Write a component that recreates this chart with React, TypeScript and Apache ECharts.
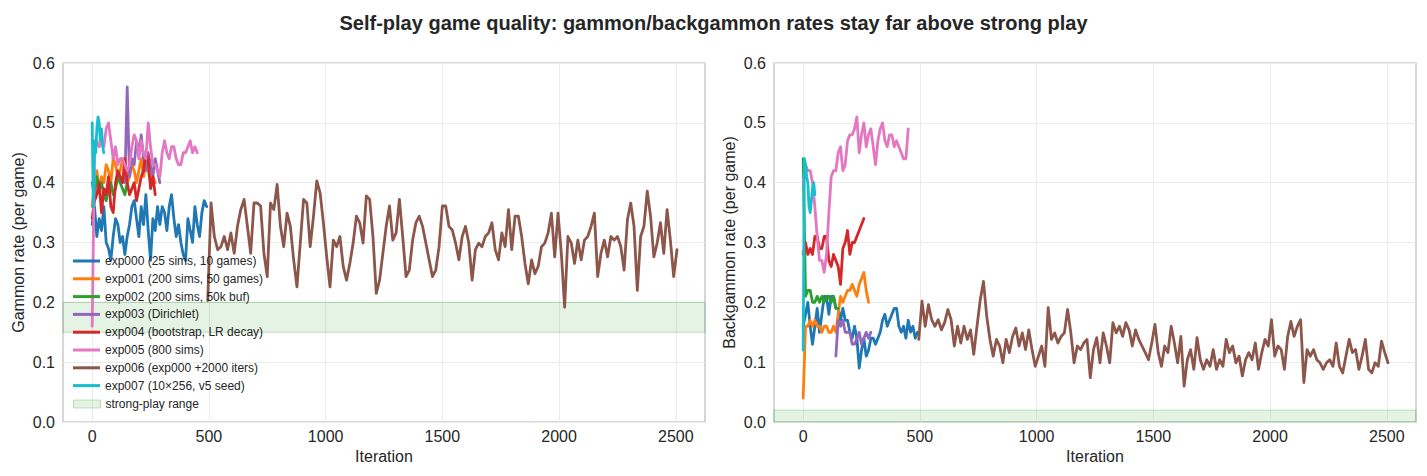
import React, { useEffect, useRef } from "react";
import * as echarts from "echarts";

const FONT = "'Liberation Sans', Arial, sans-serif";
const INK = "#262626";

// x ticks shared by both panels
const xTicks = [0, 500, 1000, 1500, 2000, 2500];

// ---- gammon rate (left panel) ----
const g000 = [0.33, 0.36, 0.31, 0.34, 0.32, 0.36, 0.30, 0.29, 0.27, 0.31, 0.34, 0.33, 0.30, 0.31, 0.28, 0.31, 0.33, 0.36, 0.37, 0.34, 0.31, 0.36, 0.33, 0.38, 0.32, 0.27, 0.34, 0.32, 0.36, 0.33, 0.36, 0.35, 0.32, 0.36, 0.38, 0.34, 0.31, 0.33, 0.30, 0.28, 0.27, 0.34, 0.32, 0.30, 0.36, 0.33, 0.31, 0.35, 0.37, 0.36];
const g001 = [0.36, 0.40, 0.42, 0.39, 0.41, 0.40, 0.43, 0.42, 0.40, 0.44, 0.43, 0.41, 0.42, 0.44, 0.43, 0.40, 0.41, 0.43, 0.42, 0.40, 0.42, 0.44, 0.41, 0.43, 0.42, 0.40, 0.41, 0.40];
const g002 = [0.40, 0.38, 0.41, 0.39, 0.40, 0.38, 0.37, 0.39, 0.40, 0.38, 0.39, 0.41, 0.40, 0.39, 0.38, 0.40];
const g003 = [0.40, 0.56, 0.41, 0.44, 0.43, 0.47, 0.45, 0.48, 0.44, 0.42, 0.45, 0.43, 0.41, 0.44, 0.42, 0.40];
const g004 = [0.34, 0.37, 0.38, 0.40, 0.35, 0.39, 0.38, 0.41, 0.36, 0.35, 0.40, 0.42, 0.41, 0.40, 0.44, 0.40, 0.38, 0.39, 0.40, 0.37, 0.39, 0.41, 0.42, 0.45, 0.44, 0.39, 0.41, 0.38];
const g005 = [0.16, 0.45, 0.47, 0.46, 0.47, 0.46, 0.49, 0.50, 0.47, 0.44, 0.46, 0.43, 0.44, 0.44, 0.43, 0.42, 0.43, 0.46, 0.48, 0.47, 0.44, 0.47, 0.45, 0.44, 0.50, 0.46, 0.43, 0.43, 0.42, 0.41, 0.45, 0.47, 0.45, 0.44, 0.46, 0.46, 0.44, 0.43, 0.43, 0.45, 0.45, 0.46, 0.47, 0.45, 0.46, 0.45];
const g006 = [
  0.203, 0.366, 0.310, 0.288, 0.293, 0.310, 0.288, 0.316, 0.282, 0.327, 0.355, 0.372, 0.327, 0.282, 0.366, 0.366,
  0.361, 0.282, 0.243, 0.366, 0.355, 0.397, 0.327, 0.293, 0.349, 0.327, 0.271, 0.226, 0.299, 0.372, 0.366, 0.293,
  0.344, 0.403, 0.383, 0.333, 0.276, 0.226, 0.304, 0.293, 0.310, 0.260, 0.237, 0.265, 0.299, 0.344, 0.333, 0.299,
  0.378, 0.372, 0.310, 0.215, 0.237, 0.282, 0.327, 0.361, 0.304, 0.316, 0.372, 0.310, 0.243, 0.254, 0.304, 0.333,
  0.344, 0.327, 0.299, 0.271, 0.243, 0.254, 0.293, 0.361, 0.361, 0.327, 0.321, 0.299, 0.271, 0.310, 0.327, 0.299,
  0.237, 0.288, 0.299, 0.293, 0.310, 0.316, 0.333, 0.288, 0.271, 0.316, 0.293, 0.355, 0.288, 0.344, 0.344, 0.310,
  0.265, 0.231, 0.271, 0.248, 0.260, 0.293, 0.299, 0.316, 0.349, 0.276, 0.349, 0.282, 0.192, 0.310, 0.299, 0.265,
  0.304, 0.271, 0.304, 0.310, 0.327, 0.349, 0.243, 0.282, 0.304, 0.276, 0.310, 0.304, 0.310, 0.293, 0.254, 0.338,
  0.366, 0.327, 0.220, 0.310, 0.327, 0.386, 0.344, 0.276, 0.299, 0.333, 0.282, 0.355, 0.304, 0.243, 0.288,
];
const g007 = [0.50, 0.36, 0.47, 0.45, 0.49, 0.51, 0.50, 0.47, 0.49, 0.46, 0.45];

// ---- backgammon rate (right panel) ----
const b000 = [0.16, 0.18, 0.20, 0.16, 0.13, 0.16, 0.19, 0.15, 0.18, 0.21, 0.21, 0.18, 0.21, 0.21, 0.19, 0.19, 0.17, 0.19, 0.17, 0.17, 0.15, 0.14, 0.16, 0.14, 0.09, 0.12, 0.14, 0.11, 0.12, 0.14, 0.14, 0.13, 0.14, 0.15, 0.17, 0.18, 0.16, 0.17, 0.18, 0.19, 0.19, 0.16, 0.15, 0.16, 0.14, 0.17, 0.15, 0.16, 0.14, 0.15];
const b001 = [0.04, 0.16, 0.16, 0.17, 0.16, 0.17, 0.16, 0.16, 0.15, 0.16, 0.16, 0.15, 0.15, 0.16, 0.15, 0.18, 0.21, 0.20, 0.21, 0.22, 0.22, 0.23, 0.22, 0.21, 0.23, 0.24, 0.25, 0.22, 0.20];
const b002 = [0.44, 0.21, 0.22, 0.22, 0.20, 0.20, 0.21, 0.20, 0.21, 0.20, 0.21, 0.21, 0.20, 0.21, 0.19, 0.19];
const b003 = [0.11, 0.17, 0.16, 0.17, 0.15, 0.15, 0.15, 0.13, 0.13, 0.14, 0.15, 0.13, 0.14, 0.15, 0.14, 0.15];
const b004 = [0.28, 0.30, 0.28, 0.29, 0.28, 0.31, 0.31, 0.29, 0.29, 0.31, 0.31, 0.27, 0.26, 0.28, 0.27, 0.26, 0.23, 0.29, 0.30, 0.32, 0.28, 0.30, 0.30, 0.31, 0.32, 0.33, 0.34];
const b005 = [0.40, 0.43, 0.42, 0.42, 0.40, 0.36, 0.31, 0.27, 0.27, 0.25, 0.28, 0.35, 0.41, 0.42, 0.42, 0.45, 0.46, 0.42, 0.43, 0.47, 0.48, 0.48, 0.49, 0.51, 0.45, 0.48, 0.50, 0.46, 0.48, 0.49, 0.46, 0.43, 0.47, 0.49, 0.50, 0.47, 0.46, 0.48, 0.48, 0.46, 0.47, 0.46, 0.45, 0.44, 0.44, 0.49];
const b006 = [
  0.138, 0.202, 0.160, 0.196, 0.171, 0.160, 0.171, 0.154, 0.166, 0.188, 0.171, 0.127, 0.160, 0.132, 0.160, 0.138,
  0.154, 0.113, 0.160, 0.204, 0.235, 0.177, 0.138, 0.110, 0.138, 0.127, 0.099, 0.138, 0.116, 0.143, 0.157, 0.127,
  0.149, 0.121, 0.154, 0.121, 0.093, 0.110, 0.127, 0.093, 0.191, 0.138, 0.149, 0.132, 0.143, 0.149, 0.188, 0.149,
  0.099, 0.127, 0.121, 0.132, 0.138, 0.074, 0.121, 0.141, 0.099, 0.149, 0.127, 0.099, 0.166, 0.149, 0.160, 0.143,
  0.166, 0.154, 0.127, 0.154, 0.138, 0.127, 0.116, 0.104, 0.132, 0.163, 0.116, 0.093, 0.127, 0.116, 0.160, 0.132,
  0.099, 0.143, 0.060, 0.104, 0.121, 0.088, 0.141, 0.104, 0.088, 0.104, 0.093, 0.121, 0.088, 0.104, 0.093, 0.138,
  0.116, 0.127, 0.099, 0.110, 0.077, 0.104, 0.116, 0.104, 0.132, 0.088, 0.116, 0.138, 0.127, 0.171, 0.110, 0.127,
  0.121, 0.088, 0.143, 0.168, 0.143, 0.160, 0.171, 0.066, 0.121, 0.110, 0.121, 0.104, 0.099, 0.088, 0.099, 0.104,
  0.093, 0.132, 0.093, 0.082, 0.110, 0.138, 0.116, 0.121, 0.088, 0.110, 0.138, 0.088, 0.082, 0.099, 0.093, 0.135,
  0.116, 0.099,
];
const b007 = [0.12, 0.44, 0.43, 0.41, 0.40, 0.36, 0.35, 0.37, 0.39, 0.40, 0.38];

// exp006 continues exp000 from ~iter 495 to ~2505
const EXP006_START = 495;
const EXP006_END = 2505;

const runs = [
  { name: "exp000 (25 sims, 10 games)", color: "#1f77b4", start: 0, g: g000, b: b000, gStep: 10, bStep: 10 },
  { name: "exp001 (200 sims, 50 games)", color: "#ff7f0e", start: 0, g: g001, b: b001, gStep: 10, bStep: 10 },
  { name: "exp002 (200 sims, 50k buf)", color: "#2ca02c", start: 0, g: g002, b: b002, gStep: 10, bStep: 10 },
  { name: "exp003 (Dirichlet)", color: "#9467bd", start: 140, g: g003, b: b003, gStep: 10, bStep: 10 },
  { name: "exp004 (bootstrap, LR decay)", color: "#d62728", start: 0, g: g004, b: b004, gStep: 10, bStep: 10 },
  { name: "exp005 (800 sims)", color: "#e377c2", start: 0, g: g005, b: b005, gStep: 10, bStep: 10 },
  {
    name: "exp006 (exp000 +2000 iters)", color: "#8c564b", start: EXP006_START, g: g006, b: b006,
    gStep: (EXP006_END - EXP006_START) / (g006.length - 1),
    bStep: (EXP006_END - EXP006_START) / (b006.length - 1),
  },
  { name: "exp007 (10×256, v5 seed)", color: "#17becf", start: 0, g: g007, b: b007, gStep: 5, bStep: 5 },
];

const BAND_NAME = "strong-play range";
const gammonBand = [0.15, 0.2];
const backgammonBand = [0, 0.02];

const toPoints = (start: number, step: number, vals: number[]) =>
  vals.map((v, i) => [start + i * step, v]);

const bandStyle = {
  color: "rgba(44,160,44,0.12)",
  borderColor: "rgba(44,160,44,0.28)",
  borderWidth: 1,
};

const xAxisOf = (gridIndex: number) => ({
  type: "value",
  gridIndex,
  min: -125,
  max: 2625,
  name: "Iteration",
  nameLocation: "middle",
  nameGap: 26,
  nameTextStyle: { fontFamily: FONT, fontSize: 16, color: INK },
  axisLine: { show: false },
  axisTick: { show: false, customValues: xTicks },
  axisLabel: {
    customValues: xTicks,
    fontFamily: FONT,
    fontSize: 16,
    color: INK,
    margin: 6,
    formatter: (v: number) => String(v),
  },
  splitLine: { show: true, lineStyle: { color: "#ebebeb", width: 1 } },
});

const yAxisOf = (gridIndex: number, name: string) => ({
  type: "value",
  gridIndex,
  min: 0,
  max: 0.6,
  interval: 0.1,
  name,
  nameLocation: "middle",
  nameGap: 37,
  nameTextStyle: { fontFamily: FONT, fontSize: 16, color: INK },
  axisLine: { show: false },
  axisTick: { show: false },
  axisLabel: {
    fontFamily: FONT,
    fontSize: 16,
    color: INK,
    margin: 8,
    formatter: (v: number) => v.toFixed(1),
  },
  splitLine: { show: true, lineStyle: { color: "#ebebeb", width: 1 } },
});

const bandSeries = (idx: number, range: number[]) => ({
  type: "line",
  name: BAND_NAME,
  xAxisIndex: idx,
  yAxisIndex: idx,
  data: [],
  silent: true,
  z: 1,
  itemStyle: { color: bandStyle.color },
  markArea: {
    silent: true,
    itemStyle: bandStyle,
    data: [[{ yAxis: range[0] }, { yAxis: range[1] }]],
  },
});

const App: React.FC = () => {
  const chartRef = useRef<HTMLDivElement>(null);

  useEffect(() => {
    if (!chartRef.current) return;
    const chart = echarts.init(chartRef.current, undefined, { renderer: "svg" });

    const lineSeries: any[] = [];
    runs.forEach((r) => {
      [0, 1].forEach((panel) => {
        lineSeries.push({
          type: "line",
          name: r.name,
          xAxisIndex: panel,
          yAxisIndex: panel,
          data: panel === 0 ? toPoints(r.start, r.gStep, r.g) : toPoints(r.start, r.bStep, r.b),
          showSymbol: false,
          symbol: "none",
          lineStyle: { color: r.color, width: 2.8, join: "round", cap: "round" },
          itemStyle: { color: r.color },
          z: 2,
        });
      });
    });

    const legendText = { fontFamily: FONT, fontSize: 12, lineHeight: 14, color: INK };

    const option: any = {
      animation: false,
      backgroundColor: "#ffffff",
      textStyle: { fontFamily: FONT },
      title: {
        text: "Self-play game quality: gammon/backgammon rates stay far above strong play",
        left: "center",
        top: 8,
        textStyle: { fontFamily: FONT, fontSize: 20, fontWeight: "bold", color: INK },
      },
      legend: [
        {
          data: runs.map((r) => r.name),
          orient: "vertical",
          left: 73,
          top: 254,
          padding: 0,
          itemWidth: 27,
          itemHeight: 3,
          itemGap: 3.8,
          icon: "rect",
          selectedMode: false,
          textStyle: legendText,
        },
        {
          data: [{ name: BAND_NAME, icon: "rect", itemStyle: bandStyle }],
          orient: "vertical",
          left: 73,
          top: 397,
          padding: 0,
          itemWidth: 27,
          itemHeight: 8,
          selectedMode: false,
          textStyle: legendText,
        },
      ],
      grid: [
        { left: 63, top: 63, width: 642, height: 359, show: true, borderColor: "#cccccc", borderWidth: 1.6, backgroundColor: "transparent" },
        { left: 774, top: 63, width: 642, height: 359, show: true, borderColor: "#cccccc", borderWidth: 1.6, backgroundColor: "transparent" },
      ],
      xAxis: [xAxisOf(0), xAxisOf(1)],
      yAxis: [yAxisOf(0, "Gammon rate (per game)"), yAxisOf(1, "Backgammon rate (per game)")],
      series: [bandSeries(0, gammonBand), bandSeries(1, backgammonBand), ...lineSeries],
    };

    chart.setOption(option);
    return () => chart.dispose();
  }, []);

  return (
    <div
      ref={chartRef}
      style={{ position: "fixed", left: 0, top: 0, width: 1427, height: 476 }}
    />
  );
};

export default App;
